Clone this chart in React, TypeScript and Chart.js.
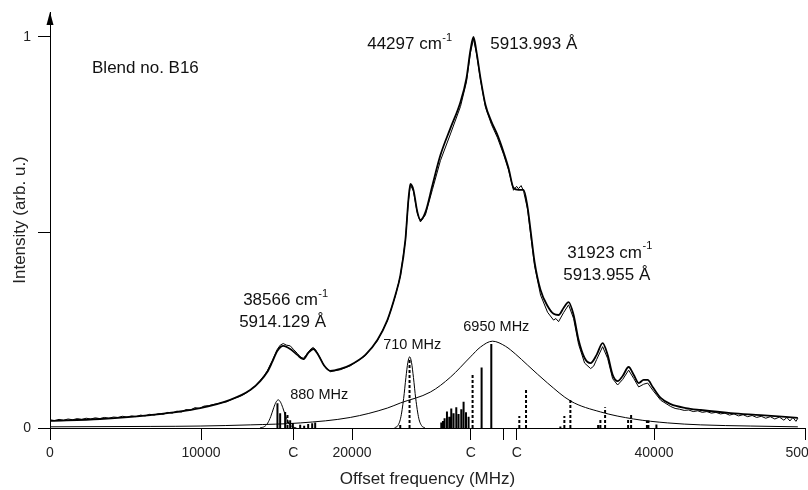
import React, { useEffect, useRef } from 'react';
import { Chart, registerables } from 'chart.js';

Chart.register(...registerables);

const FONT = "'Liberation Sans', Arial, sans-serif";

// Axis ticks
const X_TICKS = [0, 10000, 16110, 20000, 27870, 30000, 30920, 40000, 50000];
const X_TICK_LABELS = ['0', '10000', 'C', '20000', 'C', '', 'C', '40000', '50000'];
const Y_TICKS = [0, 0.5, 1];
const Y_TICK_LABELS = ['0', '', '1'];

// Fitted spectrum (smooth, bold)
const FIT_X = [0, 3315, 6630, 9945, 11934, 13260, 13923, 14387, 14719, 15050, 15448, 15912, 16376, 16774, 17105, 17437, 17768, 18166, 18564, 19227, 19890, 20885, 21680, 22343, 22874, 23205, 23536, 23735, 23868, 24067, 24332, 24531, 24863, 25327, 25857, 26520, 27183, 27581, 27846, 28045, 28244, 28509, 28841, 29238, 29636, 30034, 30365, 30697, 31028, 31360, 31625, 31824, 32089, 32487, 32951, 33349, 33680, 34012, 34343, 34675, 35006, 35404, 35802, 36200, 36598, 36929, 37261, 37592, 37924, 38321, 38653, 38984, 39316, 39581, 39913, 40443, 41106, 42101, 43095, 45084, 47073, 49526];
const FIT_Y = [0.018, 0.023, 0.033, 0.051, 0.072, 0.097, 0.120, 0.143, 0.169, 0.197, 0.210, 0.202, 0.187, 0.176, 0.192, 0.202, 0.187, 0.159, 0.146, 0.151, 0.161, 0.187, 0.225, 0.276, 0.340, 0.391, 0.481, 0.583, 0.624, 0.609, 0.552, 0.532, 0.552, 0.621, 0.698, 0.767, 0.834, 0.895, 0.967, 1.0, 0.962, 0.895, 0.826, 0.783, 0.749, 0.706, 0.665, 0.614, 0.609, 0.609, 0.565, 0.506, 0.425, 0.353, 0.312, 0.292, 0.289, 0.307, 0.322, 0.289, 0.225, 0.179, 0.166, 0.187, 0.217, 0.187, 0.136, 0.120, 0.133, 0.156, 0.136, 0.115, 0.123, 0.123, 0.105, 0.077, 0.061, 0.051, 0.046, 0.038, 0.033, 0.026];

// Observed spectrum (noisy, thin) [MHz, intensity]
const OBSERVED: [number, number][] = [
  [0, 0.021], [300, 0.019], [600, 0.022], [900, 0.020], [1200, 0.023], [1500, 0.021], [1800, 0.024], [2100, 0.022],
  [2400, 0.025], [2700, 0.023], [3000, 0.026], [3300, 0.024], [3600, 0.027], [3900, 0.025], [4200, 0.028], [4500, 0.027],
  [4800, 0.030], [5100, 0.028], [5400, 0.031], [5700, 0.029], [6000, 0.033], [6300, 0.031], [6600, 0.035], [6900, 0.033],
  [7200, 0.037], [7500, 0.035], [7800, 0.040], [8100, 0.038], [8400, 0.043], [8700, 0.041], [9000, 0.047], [9300, 0.046],
  [9600, 0.052], [9900, 0.050], [10200, 0.056], [10500, 0.057], [10800, 0.060], [11100, 0.062], [11400, 0.065], [11700, 0.067],
  [12000, 0.073], [12300, 0.077], [12600, 0.081], [12900, 0.087], [13260, 0.097], [13600, 0.108], [13923, 0.122], [14200, 0.135],
  [14387, 0.146], [14719, 0.172], [15050, 0.201], [15250, 0.212], [15448, 0.216], [15650, 0.212], [15912, 0.210], [16150, 0.200],
  [16376, 0.191], [16574, 0.182], [16774, 0.178], [16950, 0.186], [17105, 0.194], [17300, 0.203], [17437, 0.206], [17600, 0.199],
  [17768, 0.188], [18166, 0.158], [18564, 0.144], [19227, 0.149], [19890, 0.159], [20885, 0.185], [21680, 0.223], [22343, 0.274],
  [22874, 0.338], [23205, 0.389], [23536, 0.479], [23735, 0.581], [23868, 0.622], [24067, 0.606], [24332, 0.548], [24531, 0.527],
  [24863, 0.545], [25327, 0.610], [25857, 0.684], [26520, 0.752], [27183, 0.822], [27581, 0.885], [27846, 0.960], [28045, 0.995],
  [28244, 0.958], [28509, 0.890], [28841, 0.820], [29238, 0.776], [29636, 0.742], [30034, 0.700], [30365, 0.660], [30697, 0.608],
  [30900, 0.618], [31028, 0.612], [31200, 0.620], [31360, 0.606], [31625, 0.560], [31824, 0.497], [32089, 0.415], [32487, 0.340],
  [32951, 0.296], [33349, 0.276], [33500, 0.280], [33680, 0.272], [34012, 0.295], [34343, 0.315], [34675, 0.280], [35006, 0.214],
  [35404, 0.166], [35802, 0.152], [36000, 0.158], [36200, 0.175], [36598, 0.208], [36929, 0.178], [37261, 0.126], [37592, 0.110],
  [37924, 0.124], [38321, 0.148], [38653, 0.127], [38984, 0.105], [39316, 0.112], [39581, 0.115], [39913, 0.097], [40443, 0.071],
  [41106, 0.055], [41400, 0.050], [41700, 0.048], [42000, 0.045], [42300, 0.046], [42600, 0.042], [42900, 0.044], [43200, 0.040],
  [43500, 0.042], [43800, 0.038], [44100, 0.040], [44400, 0.036], [44700, 0.038], [45000, 0.033], [45300, 0.036], [45600, 0.031],
  [45900, 0.034], [46200, 0.029], [46500, 0.032], [46800, 0.027], [47100, 0.030], [47400, 0.025], [47700, 0.029], [48000, 0.023],
  [48300, 0.028], [48600, 0.020], [48800, 0.027], [49000, 0.018], [49200, 0.027], [49400, 0.017], [49526, 0.025],
];

// Component profiles
const G880_X = [13917, 14217, 14417, 14617, 14817, 14967, 15117, 15267, 15417, 15617, 15817, 16017, 16317];
const G880_Y = [0.0004, 0.004, 0.0125, 0.029, 0.052, 0.066, 0.072, 0.066, 0.052, 0.029, 0.0125, 0.004, 0.0004];
const G710_X = [22820, 23020, 23220, 23420, 23570, 23700, 23820, 23940, 24070, 24220, 24420, 24620, 24820];
const G710_Y = [0.0007, 0.0054, 0.0251, 0.0755, 0.129, 0.168, 0.182, 0.168, 0.129, 0.0755, 0.0251, 0.0054, 0.0007];
const BROAD_X = [0, 6630, 9945, 13260, 16575, 19890, 22343, 23205, 25194, 26520, 27846, 28509, 29305, 30166, 30830, 31625, 32951, 34476, 36465, 38653, 40907, 43095, 46410, 49526];
const BROAD_Y = [0.003, 0.004, 0.005, 0.008, 0.013, 0.027, 0.051, 0.064, 0.092, 0.130, 0.182, 0.207, 0.222, 0.209, 0.189, 0.161, 0.115, 0.069, 0.041, 0.023, 0.013, 0.008, 0.005, 0.003];

// Stick spectra
const SOLID_X = [15063, 15242, 15573, 15905, 16084, 16568, 16833, 17098, 17363, 17562, 25912, 26024, 26130, 26289, 26442, 26574, 26727, 26906, 27058, 27237, 27390, 27549, 27721, 28583, 29225, 40160];
const SOLID_H = [0.063, 0.038, 0.041, 0.020, 0.013, 0.008, 0.006, 0.010, 0.012, 0.014, 0.014, 0.018, 0.025, 0.042, 0.029, 0.050, 0.038, 0.053, 0.036, 0.048, 0.067, 0.040, 0.029, 0.155, 0.215, 0.009];
const DASHED_X = [15727, 23195, 23811, 27986, 31081, 31525, 33800, 34064, 34462, 36300, 36450, 36761, 38285, 38484, 39531, 39630];
const DASHED_H = [0.033, 0.012, 0.179, 0.136, 0.031, 0.101, 0.004, 0.031, 0.073, 0.010, 0.025, 0.053, 0.023, 0.035, 0.019, 0.019];

// Text annotations (anchored in data coordinates: left edge x in MHz, vertical centre in intensity)
const ANNOTATIONS = [
  { text: 'Blend no. B16', sup: '', x: 2783, y: 0.921, big: true },
  { text: '44297 cm', sup: '-1', x: 21007, y: 0.980, big: true },
  { text: '5913.993 Å', sup: '', x: 29159, y: 0.980, big: true },
  { text: '38566 cm', sup: '-1', x: 12790, y: 0.327, big: true },
  { text: '5914.129 Å', sup: '', x: 12525, y: 0.271, big: true },
  { text: '31923 cm', sup: '-1', x: 34262, y: 0.448, big: true },
  { text: '5913.955 Å', sup: '', x: 33997, y: 0.391, big: true },
  { text: '880 MHz', sup: '', x: 15905, y: 0.084, big: false },
  { text: '710 MHz', sup: '', x: 22068, y: 0.212, big: false },
  { text: '6950 MHz', sup: '', x: 27370, y: 0.258, big: false },
];

const zip = (xs: number[], ys: number[]) => xs.map((x, i) => ({ x, y: ys[i] }));
const sticks = (xs: number[], hs: number[]) => {
  const out: { x: number; y: number | null }[] = [];
  xs.forEach((x, i) => {
    out.push({ x, y: 0 }, { x, y: hs[i] }, { x, y: null });
  });
  return out;
};

const decorPlugin = {
  id: 'decor',
  afterDraw(chart: any) {
    const { ctx, chartArea, scales } = chart;
    ctx.save();
    // arrow on y axis
    ctx.fillStyle = '#000';
    ctx.beginPath();
    ctx.moveTo(chartArea.left, chartArea.top);
    ctx.lineTo(chartArea.left - 3.5, chartArea.top + 13);
    ctx.lineTo(chartArea.left + 3.5, chartArea.top + 13);
    ctx.closePath();
    ctx.fill();
    // annotations
    ctx.fillStyle = '#111';
    ctx.textBaseline = 'middle';
    ctx.textAlign = 'left';
    ANNOTATIONS.forEach((a) => {
      const px = scales.x.getPixelForValue(a.x);
      const py = scales.y.getPixelForValue(a.y);
      const size = a.big ? 17 : 14.5;
      ctx.font = `${size}px ${FONT}`;
      ctx.fillText(a.text, px, py);
      if (a.sup) {
        const w = ctx.measureText(a.text).width;
        ctx.font = `${Math.round(size * 0.62)}px ${FONT}`;
        ctx.fillText(a.sup, px + w + 0.5, py - size * 0.38);
      }
    });
    ctx.restore();
  },
};

export default function App() {
  const ref = useRef<HTMLCanvasElement>(null);
  useEffect(() => {
    const canvas = ref.current!;
    const lineBase = { pointRadius: 0, borderColor: '#000', fill: false };
    const chart = new Chart(canvas, {
      type: 'line',
      data: {
        datasets: [
          { ...lineBase, data: zip(BROAD_X, BROAD_Y), borderWidth: 1, cubicInterpolationMode: 'monotone' },
          { ...lineBase, data: zip(G880_X, G880_Y), borderWidth: 1, cubicInterpolationMode: 'monotone' },
          { ...lineBase, data: zip(G710_X, G710_Y), borderWidth: 1, cubicInterpolationMode: 'monotone' },
          { ...lineBase, data: sticks(SOLID_X, SOLID_H), borderWidth: 2, tension: 0, spanGaps: false },
          { ...lineBase, data: sticks(DASHED_X, DASHED_H), borderWidth: 2, borderDash: [3, 2], tension: 0, spanGaps: false },
          { ...lineBase, data: OBSERVED.map(([x, y]) => ({ x, y })), borderWidth: 1, tension: 0 },
          { ...lineBase, data: zip(FIT_X, FIT_Y), borderWidth: 1.8, cubicInterpolationMode: 'monotone' },
        ] as any,
      },
      options: {
        animation: false,
        responsive: true,
        maintainAspectRatio: false,
        layout: { padding: { left: 0, right: 3, top: 12, bottom: 0 } },
        plugins: { legend: { display: false }, tooltip: { enabled: false } },
        scales: {
          x: {
            type: 'linear',
            min: 0,
            max: 50000,
            grid: { display: true, drawOnChartArea: false, drawTicks: true, tickLength: 12, color: '#000', lineWidth: 1 },
            border: { display: true, color: '#000', width: 1 },
            ticks: {
              autoSkip: false,
              maxRotation: 0,
              minRotation: 0,
              padding: 5,
              color: '#222',
              font: { family: FONT, size: 14 },
              callback: (v: any) => {
                const i = X_TICKS.indexOf(Number(v));
                return i >= 0 ? X_TICK_LABELS[i] : '';
              },
            },
            afterBuildTicks: (s: any) => {
              s.ticks = X_TICKS.map((value) => ({ value }));
            },
            afterFit: (s: any) => {
              s.height = 62;
              s.paddingLeft = 0;
              s.paddingRight = 0;
            },
            title: { display: true, text: 'Offset frequency (MHz)', color: '#222', font: { family: FONT, size: 17 }, padding: { top: 0, bottom: 0 } },
          },
          y: {
            type: 'linear',
            min: 0,
            max: 1.0639,
            grid: { display: true, drawOnChartArea: false, drawTicks: true, tickLength: 12, color: '#000', lineWidth: 1 },
            border: { display: true, color: '#000', width: 1 },
            ticks: {
              autoSkip: false,
              padding: 7,
              color: '#222',
              font: { family: FONT, size: 14 },
              callback: (v: any) => {
                const i = Y_TICKS.indexOf(Number(v));
                return i >= 0 ? Y_TICK_LABELS[i] : '';
              },
            },
            afterBuildTicks: (s: any) => {
              s.ticks = Y_TICKS.map((value) => ({ value }));
            },
            afterFit: (s: any) => {
              s.width = 50;
              s.paddingTop = 0;
              s.paddingBottom = 0;
            },
            title: { display: true, text: 'Intensity (arb. u.)', color: '#222', font: { family: FONT, size: 17 }, padding: { top: 10, bottom: 0 } },
          },
        },
      } as any,
      plugins: [decorPlugin],
    });
    return () => chart.destroy();
  }, []);
  return (
    <div style={{ position: 'fixed', left: 0, top: 0, width: 808, height: 490, background: '#fff' }}>
      <canvas ref={ref} />
    </div>
  );
}
